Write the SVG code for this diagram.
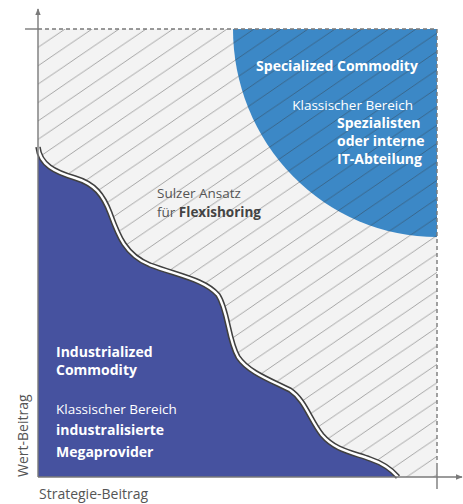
<svg xmlns="http://www.w3.org/2000/svg" width="463" height="504" viewBox="0 0 463 504">
  <style>
    text { font-family: "Open Sans", "Liberation Sans", sans-serif; }
    .w { fill: #ffffff; }
    .g { fill: #555555; }
    .b { font-weight: bold; }
    .axis { stroke: #7a7a7a; stroke-width: 1.4; fill: none; }
    .dash { stroke: #7a7a7a; stroke-width: 1.4; fill: none; stroke-dasharray: 4 3; }
  </style>
  <defs>
    <pattern id="hatch" patternUnits="userSpaceOnUse" x="38" y="29" width="27" height="18.4">
      <path d="M -1 0.68 L 28 -19.04 M -1 19.08 L 28 -0.64 M -1 37.48 L 28 17.76" stroke="#333" stroke-opacity="0.5" stroke-width="0.8" fill="none"/>
    </pattern>
    <clipPath id="plot">
      <rect x="38" y="29" width="399" height="448"/>
    </clipPath>
    <marker id="arrow" viewBox="0 0 10 10" refX="9" refY="5" markerWidth="7" markerHeight="7" orient="auto" markerUnits="userSpaceOnUse">
      <path d="M 0 1 L 10 5 L 0 9 Z" fill="#7a7a7a"/>
    </marker>
  </defs>

  <rect width="463" height="504" fill="#ffffff"/>

  <!-- plot background -->
  <g id="field">
    <rect x="38" y="29" width="399" height="448" fill="#f3f3f3"/>
  </g>

  <!-- specialized commodity quarter -->
  <g id="specialized">
    <path d="M 233 29 A 204 208 0 0 0 437 237 L 437 29 Z" fill="#3c88c6"/>
  </g>

  <!-- diagonal hatching over the upper field -->
  <rect x="38" y="29" width="399" height="448" fill="url(#hatch)" clip-path="url(#plot)"/>

  <!-- industrialized commodity region with wavy border -->
  <g id="industrialized">
    <path d="M 38 147 C 40 165 55 172 75 178 C 95 184 103 195 110 213 C 118 235 125 255 150 265 C 180 276 205 280 218 295 C 228 310 228 340 238 357 C 248 372 270 380 290 390 C 305 400 310 420 322 435 C 335 450 350 452 370 459 C 385 464 392 470 398 477 L 38 477 Z" fill="#46529f"/>
    <path d="M 38 147 C 40 165 55 172 75 178 C 95 184 103 195 110 213 C 118 235 125 255 150 265 C 180 276 205 280 218 295 C 228 310 228 340 238 357 C 248 372 270 380 290 390 C 305 400 310 420 322 435 C 335 450 350 452 370 459 C 385 464 392 470 398 477" fill="none" stroke="#404040" stroke-width="5.5"/>
    <path d="M 38 147 C 40 165 55 172 75 178 C 95 184 103 195 110 213 C 118 235 125 255 150 265 C 180 276 205 280 218 295 C 228 310 228 340 238 357 C 248 372 270 380 290 390 C 305 400 310 420 322 435 C 335 450 350 452 370 459 C 385 464 392 470 398 477" fill="none" stroke="#ffffff" stroke-width="2.4"/>
  </g>

  <!-- axes and frame -->
  <g id="connectors">
    <path class="axis" d="M 38 477 L 38 9" marker-end="url(#arrow)"/>
    <path class="axis" d="M 38 477 L 462 477" marker-end="url(#arrow)"/>
    <path class="axis" d="M 25 29 L 38 29"/>
    <path class="dash" d="M 38 29 L 437 29"/>
    <path class="dash" d="M 437 29 L 437 465"/>
    <path class="axis" d="M 437 465 L 437 489"/>
  </g>

  <g id="label-specialized">
    <text class="w b" x="337" y="71" font-size="14" text-anchor="middle">Specialized Commodity</text>
    <text class="w" x="413" y="110" font-size="13.5" text-anchor="end">Klassischer Bereich</text>
    <text class="w b" x="337" y="128" font-size="14">Spezialisten</text>
    <text class="w b" x="337" y="146" font-size="14">oder interne</text>
    <text class="w b" x="337" y="164" font-size="14">IT-Abteilung</text>
  </g>

  <g id="label-sulzer">
    <text class="g" x="157" y="198" font-size="13.5">Sulzer Ansatz</text>
    <text class="g" x="157" y="217" font-size="13.5">für <tspan class="b" fill="#444">Flexishoring</tspan></text>
  </g>

  <g id="label-industrialized">
    <text class="w b" x="56" y="357" font-size="14">Industrialized</text>
    <text class="w b" x="56" y="375" font-size="14">Commodity</text>
    <text class="w" x="56" y="414" font-size="13.5">Klassischer Bereich</text>
    <text class="w b" x="56" y="435" font-size="14">industralisierte</text>
    <text class="w b" x="56" y="457" font-size="14">Megaprovider</text>
  </g>

  <g id="axis-labels">
    <text class="g" x="0" y="0" font-size="14" transform="translate(28 477) rotate(-90)">Wert-Beitrag</text>
    <text class="g" x="39" y="499" font-size="14">Strategie-Beitrag</text>
  </g>
</svg>
